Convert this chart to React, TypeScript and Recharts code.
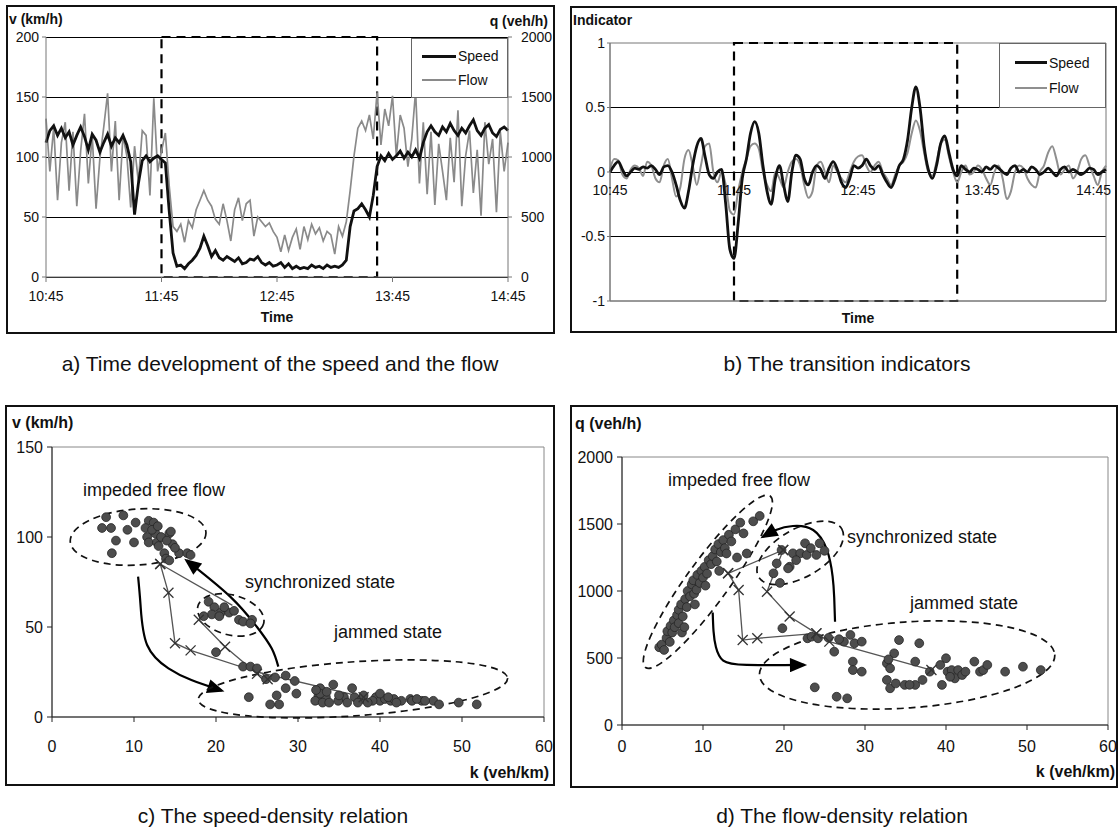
import React from 'react';
import {
  ComposedChart, Line, Scatter, XAxis, YAxis, CartesianGrid,
  ReferenceArea, ReferenceDot, Legend,
} from 'recharts';

const FONT = '"Liberation Sans", Arial, Helvetica, sans-serif';
const INK = '#111';

// time axis: one sample every 2 minutes, 10:45 .. 14:45
const STEP_MIN = 2;
const TIME_TICKS = [0, 60, 120, 180, 240];
const TIME_LABELS = ['10:45', '11:45', '12:45', '13:45', '14:45'];
const timeLabel = (t: number) => TIME_LABELS[TIME_TICKS.indexOf(t)] ?? '';

// a) speed (km/h) and flow (veh/h)
const SPEED = [
  112, 122, 126, 118, 124, 116, 121, 110, 118, 125,
  117, 106, 119, 114, 104, 112, 119, 109, 116, 112,
  118, 110, 96, 52, 78, 97, 101, 96, 99, 101,
  98, 95, 55, 20, 9, 10, 7, 11, 14, 18,
  24, 34, 26, 17, 22, 16, 14, 17, 15, 13,
  16, 11, 12, 15, 14, 17, 12, 10, 12, 9,
  10, 12, 8, 11, 7, 9, 7, 8, 7, 10,
  8, 9, 7, 10, 8, 9, 8, 10, 14, 42,
  55, 57, 61, 56, 50, 68, 92, 101, 97, 103,
  98, 101, 105, 99, 104, 100, 106, 99, 112, 121,
  126, 121, 118, 125, 121, 128, 122, 118, 124, 120,
  126, 131, 122, 118, 124, 127, 120, 117, 123, 125,
  122,
];
const FLOW = [
  1320, 880, 1250, 640, 1120, 1290, 720, 1210, 590, 1050,
  1360, 780, 1180, 570, 990, 1250, 1530, 880, 1300, 640,
  1180, 1010, 580, 1090, 790, 1220, 1180, 680, 1490, 880,
  1050, 1200, 760, 420, 380, 440, 290, 470, 410, 560,
  640, 720, 640, 590, 480, 440, 610, 470, 300, 560,
  660, 470, 610, 640, 340, 500, 460, 420, 450, 380,
  330, 210, 350, 220, 330, 400, 230, 420, 310, 440,
  360, 410, 300, 380, 350, 190, 420, 340, 460, 720,
  1010, 1240, 1300, 1220, 1350, 1150, 1540, 1100, 1400, 1260,
  1510, 1010, 1350, 1240, 920, 1150, 1550, 780, 1290, 690,
  1210, 600, 1110, 880, 640, 1160, 790, 1390, 590, 1010,
  1220, 700, 1060, 510, 1290, 940, 1150, 540, 1210, 880,
  1120,
];

// b) transition indicators
const SPEED_IND = [
  0.0, 0.05, 0.08, 0.02, -0.03, 0.0, 0.03, 0.02, 0.04, 0.03,
  0.05, 0.02, -0.02, 0.04, 0.05, 0.0, -0.1, -0.22, -0.28, -0.15,
  0.05, 0.2, 0.26, 0.12, -0.02, -0.05, 0.0, 0.02, -0.25, -0.6,
  -0.67, -0.4, -0.05, 0.1, 0.3, 0.39, 0.3, 0.05, -0.15, -0.25,
  -0.05, 0.05, -0.1, -0.23, 0.0, 0.13, 0.1, -0.05, -0.1, 0.0,
  0.05, 0.02, -0.05, 0.03, 0.08, 0.02, -0.08, -0.12, -0.05, 0.05,
  0.03, 0.05, 0.1, 0.05, 0.02, 0.05, -0.02, -0.08, -0.12, -0.05,
  0.05, 0.1, 0.25, 0.5, 0.66, 0.5, 0.2, 0.02, -0.05, 0.05,
  0.22, 0.28, 0.15, 0.02, -0.03, 0.05, 0.02, 0.0, 0.03, 0.02,
  0.0, 0.04, 0.02, 0.05, 0.03, 0.0, -0.02, 0.03, 0.05, 0.0,
  0.02, 0.0, 0.04, 0.02, -0.02, 0.0, 0.03, 0.0, -0.03, 0.02,
  0.04, 0.0, 0.02, 0.0, -0.02, 0.0, 0.03, 0.02, -0.02, 0.0,
  0.02,
];
const FLOW_IND = [
  0.02, 0.1, 0.09, -0.02, -0.05, 0.02, 0.05, 0.03, -0.03, 0.08,
  0.05, -0.05, -0.08, 0.05, 0.1, -0.05, -0.19, -0.12, 0.1, 0.17,
  0.05, -0.1, 0.05, 0.2, 0.22, 0.0, -0.08, 0.0, -0.1, -0.3,
  -0.33, -0.15, 0.0, 0.1, 0.2, 0.22, 0.18, 0.0, -0.1, -0.15,
  0.0, -0.05, -0.12, 0.0, 0.08, 0.1, 0.05, -0.1, -0.2, -0.15,
  0.05, 0.08, 0.0, -0.08, 0.05, 0.0, -0.05, -0.08, 0.0, 0.08,
  0.12, 0.13, 0.05, 0.0, 0.05, 0.08, 0.0, -0.05, -0.1, -0.02,
  0.05, 0.08, 0.15, 0.3, 0.4, 0.32, 0.15, 0.0, -0.03, 0.08,
  0.22, 0.25, 0.12, 0.0, -0.08, 0.0, 0.05, -0.02, 0.0, 0.05,
  0.02, -0.05, -0.1, 0.0, 0.05, -0.05, -0.21, -0.15, 0.0, 0.05,
  0.03, -0.05, -0.1, -0.12, 0.0, 0.05, 0.15, 0.2, 0.1, -0.02,
  0.02, 0.05, -0.05, 0.0, 0.1, 0.13, 0.05, -0.03, -0.1, 0.0,
  0.05,
];

// congested period framed by the dashed box (minutes after 10:45)
const WINDOW_A = [60, 172];
const WINDOW_B = [60, 168];

// c) speed-density, [k, v]
const C_FREE = [
  [6.6, 111], [6.1, 105], [7.2, 105], [7.8, 98], [7.3, 91], [8.7, 112], [9.2, 104], [10.2, 108],
  [10, 97], [11.8, 109], [11.4, 105], [11.6, 100], [11.8, 97], [12.4, 108], [12.6, 102], [12.8, 97],
  [13, 95], [13.7, 91], [14.3, 102], [14.5, 103], [14.7, 96], [15.5, 91], [16.5, 91], [16.9, 90],
  [13.9, 88], [14.3, 87], [12.2, 104], [13.3, 100], [12.9, 106], [14, 98], [15, 94],
];
const C_SYNC = [
  [19.1, 64], [19.8, 61], [19.5, 57], [20.6, 58], [21.6, 58], [22.2, 59], [22.8, 54], [24.4, 54],
  [18.5, 56], [20.4, 56], [23.3, 53], [21, 61], [24.2, 52],
];
const C_JAM = [
  [20, 36], [23.3, 28], [24.2, 28], [25, 27], [26.1, 21], [27.2, 22], [28.5, 23], [29.6, 20],
  [28.5, 16], [29.8, 13], [24, 11], [26.6, 7], [27.7, 7], [27.4, 12], [32.5, 12], [32.7, 16],
  [33.4, 11], [34.3, 18], [35.6, 11], [36.6, 16], [36.9, 11], [37.8, 10], [39.5, 11], [40, 9],
  [40.6, 10], [41.3, 9], [41.7, 10], [42.6, 9], [43.7, 10], [45.1, 9], [46.5, 9], [47.2, 7],
  [49.6, 8], [51.8, 7], [32.1, 9], [33, 8], [33.8, 8], [34.9, 9], [36, 8], [37.3, 8],
  [39.1, 9], [40, 13], [43.9, 9], [32.7, 13], [32.2, 15], [38.5, 8], [41, 11], [44.5, 10],
  [35, 12], [33.5, 14], [38, 12], [42, 8], [45.5, 9],
];
// trajectory [k, v, marked]
const C_PATH_1 = [[13.2, 85, 1], [14.2, 69, 1], [15, 41, 1], [16.9, 37, 1], [25, 25, 0], [38, 11, 1]];
const C_PATH_2 = [[13.2, 85, 1], [22, 62, 0]];
const C_PATH_3 = [[17.9, 54, 1], [21.1, 39, 1], [25, 24, 1], [26.3, 21, 1]];
const C_ARROW_1 = [[10.5, 78], [10.8, 62], [11.6, 40], [14.2, 27], [17, 20.5], [20.7, 14.6]];
const C_ARROW_2 = [[27.6, 28], [26.8, 38], [25, 50], [21.7, 67], [16.4, 87]];

// d) flow-density, [k, q]
const D_FREE = [
  [4.6, 580], [4.9, 600], [5.2, 560], [5.5, 650], [5.6, 700], [5.9, 620], [6.0, 740], [6.2, 690],
  [6.4, 780], [6.5, 730], [6.8, 820], [7.0, 760], [7.0, 860], [7.3, 900], [7.4, 690], [7.5, 810],
  [7.8, 940], [8.0, 880], [8.1, 1000], [8.4, 960], [8.6, 1050], [8.8, 1080], [8.9, 980], [9.2, 1010],
  [9.3, 1120], [9.6, 1060], [9.8, 1150], [10.0, 1100], [10.2, 1180], [10.5, 1130], [10.7, 1230], [11.0, 1200],
  [11.2, 1260], [11.5, 1310], [11.7, 1220], [11.9, 1350], [12.2, 1290], [12.5, 1380], [12.7, 1320], [12.9, 1280],
  [13.2, 1420], [13.5, 1370], [14.0, 1460], [14.2, 1250], [14.6, 1510], [15.0, 1430], [15.4, 1280], [16.2, 1520],
  [17.0, 1560], [10.3, 1040], [9.0, 900], [7.7, 730], [12.0, 1150],
];
const D_SYNC = [
  [19.1, 1206], [18.7, 1132], [20.7, 1181], [21.1, 1281], [22, 1281], [22.6, 1356], [22.8, 1269], [24.0, 1269],
  [24.4, 1356], [20.5, 1169], [19.7, 1306], [23.3, 1320], [21.5, 1230], [25, 1300], [19.5, 1060],
];
const D_JAM = [
  [19.8, 722], [22.9, 647], [23.4, 659], [24.2, 647], [26.2, 547], [27.4, 622], [28.2, 672], [28.7, 610],
  [29.6, 622], [28.5, 473], [28.5, 410], [29.6, 398], [23.8, 281], [26.5, 211], [27.8, 199], [32.7, 460],
  [33.6, 535], [34.2, 634], [33.1, 423], [32.7, 336], [33.1, 274], [34.9, 299], [36.2, 299], [37.1, 336],
  [36.7, 610], [36.2, 473], [38.0, 398], [39.3, 448], [40.0, 498], [39.5, 299], [40.2, 398], [40.7, 410],
  [41.1, 348], [41.5, 410], [42.0, 373], [42.4, 398], [43.5, 473], [44.2, 398], [44.6, 410], [45.1, 448],
  [47.3, 398], [49.5, 435], [51.7, 410], [33.8, 310], [35.5, 300], [32.9, 490], [40.5, 360], [25.5, 650],
  [26.8, 640],
];
const D_PATH_1 = [[13.1, 1132, 1], [14.4, 1007, 1], [14.9, 634, 1], [16.7, 647, 1], [24, 684, 1], [25.6, 622, 1], [38.2, 410, 1]];
const D_PATH_2 = [[13.1, 1132, 1], [19.9, 1306, 1]];
const D_PATH_3 = [[19.9, 1306, 1], [17.9, 995, 1], [20.7, 810, 1], [24, 684, 1]];
const D_ARROW_1 = [[11.2, 840], [11.3, 700], [11.6, 580], [12.5, 480], [15.4, 448], [22.5, 448]];
const D_ARROW_2 = [[26.3, 770], [26.2, 950], [26.0, 1110], [25.3, 1306], [23.6, 1455], [21.1, 1485], [19.0, 1455], [17.4, 1405]];

// state regions: centre in data units, half-axes in px, tilt in degrees
const C_REGIONS = [
  { k: 10.5, v: 100, rx: 68, ry: 28, tilt: -4 },
  { k: 21.8, v: 56.7, rx: 34, ry: 20, tilt: 15 },
  { k: 36.7, v: 15.6, rx: 155, ry: 27, tilt: -4 },
];
const D_REGIONS = [
  { k: 10.6, q: 1069, rx: 106, ry: 21, tilt: -54 },
  { k: 22.0, q: 1284, rx: 48, ry: 24, tilt: -30 },
  { k: 35.2, q: 448, rx: 148, ry: 43, tilt: -4 },
];

const V_TICKS = [0, 50, 100, 150, 200];
const Q_TICKS = [0, 500, 1000, 1500, 2000];
const IND_TICKS = [-1, -0.5, 0, 0.5, 1];
const K_TICKS = [0, 10, 20, 30, 40, 50, 60];
const VC_TICKS = [0, 50, 100, 150];

const seriesA = SPEED.map((v, i) => ({ t: i * STEP_MIN, speed: v, flow: FLOW[i] }));
const seriesB = SPEED_IND.map((v, i) => ({ t: i * STEP_MIN, speedInd: v, flowInd: FLOW_IND[i] }));
const kv = (arr: number[][]) => arr.map(([k, v, m]) => ({ k, v, mark: m === 1 }));
const kq = (arr: number[][]) => arr.map(([k, q, m]) => ({ k, q, mark: m === 1 }));

const smallTick = { fill: INK, fontSize: 14, fontFamily: FONT };
const bigTick = { fill: INK, fontSize: 16, fontFamily: FONT };

const Dot = (p: any) => <circle cx={p.cx} cy={p.cy} r={4.4} fill="#4d4d4d" stroke="#262626" strokeWidth={0.8} />;

const XMark = (p: any) => {
  if (!p.payload?.mark || p.cx == null) return <g key={p.index} />;
  const s = 5;
  return (
    <g key={p.index} stroke="#333" strokeWidth={1.3}>
      <line x1={p.cx - s} y1={p.cy - s} x2={p.cx + s} y2={p.cy + s} />
      <line x1={p.cx - s} y1={p.cy + s} x2={p.cx + s} y2={p.cy - s} />
    </g>
  );
};

const ellipseShape = (rx: number, ry: number, tilt: number) => (p: any) => (
  <ellipse cx={p.cx} cy={p.cy} rx={rx} ry={ry} transform={`rotate(${tilt} ${p.cx} ${p.cy})`}
    fill="none" stroke="#111" strokeWidth={1.7} strokeDasharray="7 5" />
);

const LEGEND_ORDER = ['Speed', 'Flow'];
const LegendBox = ({ payload, w, h, pad, lineW }: any) => {
  const items = [...(payload ?? [])]
    .filter((it: any) => LEGEND_ORDER.includes(it.value))
    .sort((a: any, b: any) => LEGEND_ORDER.indexOf(a.value) - LEGEND_ORDER.indexOf(b.value));
  return (
    <div style={{
      width: w, height: h, boxSizing: 'border-box', border: '1px solid #666', background: '#fff',
      display: 'flex', flexDirection: 'column', justifyContent: 'space-evenly', paddingLeft: pad,
    }}>
      {items.map((it: any) => (
        <div key={it.value} style={{ display: 'flex', alignItems: 'center', fontFamily: FONT, fontSize: 14, color: INK, lineHeight: 1 }}>
          <span style={{ display: 'inline-block', width: lineW, borderTop: `${it.value === 'Speed' ? 3 : 2}px solid ${it.color}`, marginRight: 2 }} />
          {it.value}
        </div>
      ))}
    </div>
  );
};

// panel b prints its time labels along the zero line
const B_ZERO_LIFT = 106;
const ZeroTick = (p: any) => {
  const last = p.payload.value === TIME_TICKS[TIME_TICKS.length - 1];
  return (
    <text x={last ? p.x + 6 : p.x} y={p.y - B_ZERO_LIFT} textAnchor={last ? 'end' : 'middle'}
      fontSize={14} fontFamily={FONT} fill={INK}>
      {timeLabel(p.payload.value)}
    </text>
  );
};

function PanelA() {
  return (
    <ComposedChart width={549} height={329} data={seriesA} margin={{ top: 32, right: 7, bottom: 12, left: 10 }}>
      <CartesianGrid yAxisId="v" vertical={false} stroke="#000" shapeRendering="crispEdges" />
      <XAxis dataKey="t" type="number" domain={[0, 240]} ticks={TIME_TICKS} tickFormatter={timeLabel}
        height={45} tickSize={5} tickMargin={9} stroke="#777" tick={smallTick}
        label={{ value: 'Time', position: 'insideBottom', offset: 0, fontSize: 14, fontWeight: 700, fill: INK, fontFamily: FONT }} />
      <YAxis yAxisId="v" domain={[0, 200]} ticks={V_TICKS} width={30} tickSize={4} tickMargin={3} stroke="#777" tick={smallTick} />
      <YAxis yAxisId="q" orientation="right" domain={[0, 2000]} ticks={Q_TICKS} width={40} tickSize={4} tickMargin={9} stroke="#777" tick={smallTick} />
      <Line yAxisId="q" dataKey="flow" name="Flow" stroke="#8a8a8a" strokeWidth={1.7} dot={false} isAnimationActive={false} />
      <Line yAxisId="v" dataKey="speed" name="Speed" stroke="#111" strokeWidth={2.8} dot={false} isAnimationActive={false} />
      <ReferenceArea yAxisId="v" x1={WINDOW_A[0]} x2={WINDOW_A[1]} y1={0} y2={200} fill="none" fillOpacity={0}
        stroke="#000" strokeWidth={2.2} strokeDasharray="9 6" ifOverflow="visible" />
      <Legend verticalAlign="middle" align="center" layout="horizontal"
        wrapperStyle={{ left: 405, top: 33, width: 97, height: 60 }}
        content={(props: any) => <LegendBox {...props} w={97} h={60} pad={10} lineW={34} />} />
    </ComposedChart>
  );
}

function PanelB() {
  return (
    <ComposedChart width={547} height={327} data={seriesB} margin={{ top: 37, right: 11, bottom: 10, left: 6 }}>
      <ReferenceArea x1={0} x2={240} y1={-1} y2={1} fill="none" fillOpacity={0} stroke="#777" />
      <CartesianGrid vertical={false} horizontalValues={[-0.5, 0, 0.5]} stroke="#000" shapeRendering="crispEdges" />
      <XAxis dataKey="t" type="number" domain={[0, 240]} ticks={TIME_TICKS} height={22} tickSize={0} tickMargin={0}
        tickLine={false} stroke="#777" tick={<ZeroTick />}
        label={{ value: 'Time', position: 'insideBottom', offset: 0, fontSize: 14, fontWeight: 700, fill: INK, fontFamily: FONT }} />
      <YAxis domain={[-1, 1]} ticks={IND_TICKS} width={34} tickSize={3} tickMargin={2} stroke="#777" tick={smallTick} />
      <Line dataKey="flowInd" name="Flow" type="monotone" stroke="#8f8f8f" strokeWidth={2} dot={false} isAnimationActive={false} />
      <Line dataKey="speedInd" name="Speed" type="monotone" stroke="#111" strokeWidth={2.8} dot={false} isAnimationActive={false} />
      <ReferenceArea x1={WINDOW_B[0]} x2={WINDOW_B[1]} y1={-1} y2={1} fill="none" fillOpacity={0}
        stroke="#000" strokeWidth={2.2} strokeDasharray="9 6" ifOverflow="visible" />
      <Legend verticalAlign="middle" align="center" layout="horizontal"
        wrapperStyle={{ left: 429, top: 37, width: 107, height: 65 }}
        content={(props: any) => <LegendBox {...props} w={107} h={65} pad={15} lineW={32} />} />
    </ComposedChart>
  );
}

const arrowProps = {
  type: 'natural' as const, stroke: '#000', strokeWidth: 2.2, dot: false,
  isAnimationActive: false, markerEnd: 'url(#arrowHead)', legendType: 'none' as const,
};
const pathProps = { stroke: '#555', strokeWidth: 1.3, isAnimationActive: false, dot: XMark, activeDot: false, legendType: 'none' as const };

function PanelC() {
  return (
    <ComposedChart width={550} height={381} margin={{ top: 42, right: 11, bottom: 7, left: 7 }}>
      <ReferenceArea x1={0} x2={60} y1={0} y2={150} fill="none" fillOpacity={0} stroke="#888" />
      <XAxis dataKey="k" type="number" domain={[0, 60]} ticks={K_TICKS} height={62} tickSize={5} tickMargin={19}
        stroke="#222" tick={bigTick} />
      <YAxis dataKey="v" type="number" domain={[0, 150]} ticks={VC_TICKS} width={40} tickSize={5} tickMargin={4}
        stroke="#222" tick={bigTick} />
      {C_REGIONS.map((e, i) => (
        <ReferenceDot key={i} x={e.k} y={e.v} r={1} shape={ellipseShape(e.rx, e.ry, e.tilt)} />
      ))}
      <Scatter data={kv(C_FREE)} shape={Dot} isAnimationActive={false} />
      <Scatter data={kv(C_SYNC)} shape={Dot} isAnimationActive={false} />
      <Scatter data={kv(C_JAM)} shape={Dot} isAnimationActive={false} />
      <Line data={kv(C_PATH_1)} dataKey="v" {...pathProps} />
      <Line data={kv(C_PATH_2)} dataKey="v" {...pathProps} />
      <Line data={kv(C_PATH_3)} dataKey="v" {...pathProps} />
      <Line data={kv(C_ARROW_1)} dataKey="v" {...arrowProps} />
      <Line data={kv(C_ARROW_2)} dataKey="v" {...arrowProps} />
    </ComposedChart>
  );
}

function PanelD() {
  return (
    <ComposedChart width={548} height={383} margin={{ top: 52, right: 10, bottom: 3, left: 8 }}>
      <ReferenceArea x1={0} x2={60} y1={0} y2={2000} fill="none" fillOpacity={0} stroke="#888" />
      <XAxis dataKey="k" type="number" domain={[0, 60]} ticks={K_TICKS} height={60} tickSize={5} tickMargin={11}
        stroke="#222" tick={bigTick} />
      <YAxis dataKey="q" type="number" domain={[0, 2000]} ticks={Q_TICKS} width={44} tickSize={5} tickMargin={4}
        stroke="#222" tick={bigTick} />
      {D_REGIONS.map((e, i) => (
        <ReferenceDot key={i} x={e.k} y={e.q} r={1} shape={ellipseShape(e.rx, e.ry, e.tilt)} />
      ))}
      <Scatter data={kq(D_FREE)} shape={Dot} isAnimationActive={false} />
      <Scatter data={kq(D_SYNC)} shape={Dot} isAnimationActive={false} />
      <Scatter data={kq(D_JAM)} shape={Dot} isAnimationActive={false} />
      <Line data={kq(D_PATH_1)} dataKey="q" {...pathProps} />
      <Line data={kq(D_PATH_2)} dataKey="q" {...pathProps} />
      <Line data={kq(D_PATH_3)} dataKey="q" {...pathProps} />
      <Line data={kq(D_ARROW_1)} dataKey="q" {...arrowProps} />
      <Line data={kq(D_ARROW_2)} dataKey="q" {...arrowProps} />
    </ComposedChart>
  );
}

const Txt = ({ x, y, size, bold, anchor = 'start', children }: any) => {
  const tx = anchor === 'middle' ? '-50%' : anchor === 'end' ? '-100%' : '0';
  return (
    <div style={{
      position: 'absolute', left: x, top: y, transform: `translate(${tx}, -50%)`, fontFamily: FONT,
      fontSize: size, fontWeight: bold ? 700 : 400, lineHeight: 1, whiteSpace: 'nowrap', color: INK,
    }}>{children}</div>
  );
};

const Frame = ({ x, y, w, h, children }: any) => (
  <>
    <div style={{ position: 'absolute', left: x, top: y, width: w, height: h }}>{children}</div>
    <div style={{ position: 'absolute', left: x, top: y, width: w, height: h, border: '2px solid #111', boxSizing: 'border-box', pointerEvents: 'none' }} />
  </>
);

export default function App() {
  return (
    <div style={{ position: 'fixed', left: 0, top: 0, width: 1120, height: 830, background: '#fff', overflow: 'hidden' }}>
      <svg width={0} height={0} style={{ position: 'absolute' }}>
        <defs>
          <marker id="arrowHead" viewBox="0 0 12 10" refX="10" refY="5" markerWidth="9" markerHeight="6.5" orient="auto">
            <path d="M0,0 L12,5 L0,10 Z" fill="#000" />
          </marker>
        </defs>
      </svg>

      <Frame x={6} y={5} w={549} h={329}><PanelA /></Frame>
      <Frame x={570} y={6} w={547} h={327}><PanelB /></Frame>
      <Frame x={5} y={405} w={550} h={381}><PanelC /></Frame>
      <Frame x={570} y={405} w={548} h={383}><PanelD /></Frame>

      <Txt x={9} y={19} size={14} bold>v (km/h)</Txt>
      <Txt x={548} y={21} size={14} bold anchor="end">q (veh/h)</Txt>
      <Txt x={573} y={20} size={14} bold>Indicator</Txt>
      <Txt x={12} y={423} size={16} bold>v (km/h)</Txt>
      <Txt x={575} y={424} size={16} bold>q (veh/h)</Txt>
      <Txt x={549} y={773} size={16} bold anchor="end">k (veh/km)</Txt>
      <Txt x={1115} y={772} size={16} bold anchor="end">k (veh/km)</Txt>

      <Txt x={83} y={490} size={18}>impeded free flow</Txt>
      <Txt x={245} y={582} size={18}>synchronized state</Txt>
      <Txt x={334} y={632} size={18}>jammed state</Txt>
      <Txt x={668} y={480} size={18}>impeded free flow</Txt>
      <Txt x={847} y={537} size={18}>synchronized state</Txt>
      <Txt x={910} y={603} size={18}>jammed state</Txt>

      <Txt x={280} y={363} size={21} anchor="middle">a) Time development of the speed and the flow</Txt>
      <Txt x={847} y={363} size={21} anchor="middle">b) The transition indicators</Txt>
      <Txt x={273} y={815} size={21} anchor="middle">c) The speed-density relation</Txt>
      <Txt x={842} y={815} size={21} anchor="middle">d) The flow-density relation</Txt>
    </div>
  );
}
